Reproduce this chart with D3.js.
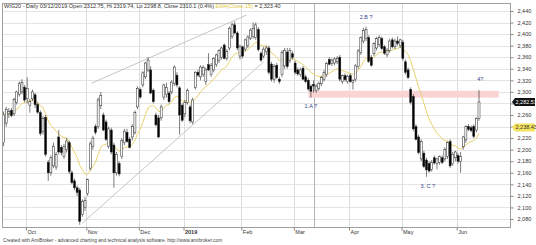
<!DOCTYPE html>
<html>
<head>
<meta charset="utf-8">
<script src="https://cdn.jsdelivr.net/npm/d3@7"></script>
<style>
  body { margin: 0; background: #fff; }
  svg { display: block; }
</style>
</head>
<body>
<div id="chart"></div>
<script>

// WIG20 daily bars, 18 Sep 2018 .. 13 Jun 2019 (one value per trading day)
var opens = [
  2212,2246,2262,2268,2262,2282,2296,2300,2308,
  2288,2277,2288,2295,2278,2264,2232,2256,2178,2160,2172,2170,2222,2204,2188,2200,2212,2160,2146,2134,2130,2088,2100,
  2124,2168,2206,2240,2240,2276,2260,2248,2206,2234,2208,2160,2176,2188,2212,2230,2218,2222,2230,2274,
  2304,2312,2326,2338,2338,2303,2260,2255,2255,2291,2296,2298,2300,2315,2329,2307,2277,
  2262,2282,2274,2248,2308,2334,2326,2330,2318,2347,2330,2338,2347,2355,2360,2381,2358,2376,2396,2416,2402,2362,
  2378,2374,2380,2393,2396,2394,2408,2367,2362,2370,2376,2348,2322,2346,2322,2330,2345,2369,2355,2366,
  2350,2338,2330,2341,2326,2320,2310,2312.75,2302,2306,2314,2322,2330,2356,2349,2350,2352,2360,2318,2328,2318,
  2328,2316,2322,2344,2368,2388,2392,2394,2360,2366,2376,2382,2392,2378,2364,2372,2390,2378,2388,2380,
  2386,2352,2338,2304,2292,2240,2222,2184,2194,2182,2176,2166,2186,2176,2178,2186,2184,2188,2214,2176,2186,
  2190,2180,2205,2217,2240,2238,2240,2234,2254
];
var highs = [
  2266,2274,2272,2272,2290,2302,2318,2322,2312,
  2325,2288,2304,2298,2282,2268,2258,2260,2182,2190,2212,2196,2234,2208,2210,2220,2216,2164,2150,2138,2134,2114,2118,
  2150,2214,2224,2244,2290,2300,2264,2252,2240,2238,2212,2196,2180,2220,2236,2236,2222,2244,2268,2310,
  2308,2336,2352,2360,2344,2306,2264,2260,2278,2314,2316,2302,2320,2346,2334,2310,2280,
  2286,2306,2278,2290,2336,2338,2346,2346,2342,2367,2350,2360,2366,2374,2378,2384,2374,2413,2420,2422,2405,2382,
  2380,2392,2398,2410,2420,2420,2412,2370,2378,2380,2380,2352,2348,2350,2326,2372,2376,2376,2376,2370,
  2354,2342,2342,2345,2330,2324,2313,2319.74,2314,2318,2328,2338,2352,2360,2358,2360,2362,2364,2330,2332,2330,
  2332,2322,2348,2374,2396,2411,2413,2398,2364,2386,2395,2398,2396,2381,2376,2392,2394,2392,2396,2392,
  2390,2356,2342,2308,2296,2244,2226,2218,2198,2186,2180,2182,2190,2186,2190,2190,2204,2214,2218,2196,2198,
  2194,2196,2224,2242,2244,2242,2244,2256,2303
];
var lows = [
  2206,2240,2255,2256,2258,2278,2292,2296,2282,
  2280,2264,2284,2272,2262,2224,2226,2188,2146,2155,2168,2165,2192,2190,2184,2195,2158,2140,2130,2120,2070,2084,2094,
  2120,2164,2200,2226,2236,2270,2232,2215,2202,2192,2134,2155,2154,2184,2208,2212,2202,2216,2226,2270,
  2288,2308,2322,2334,2296,2280,2240,2220,2250,2286,2290,2280,2296,2310,2308,2226,2248,
  2256,2278,2246,2244,2304,2326,2320,2326,2312,2336,2326,2334,2343,2350,2356,2356,2354,2372,2392,2400,2372,2356,
  2358,2370,2376,2390,2392,2390,2370,2352,2358,2364,2330,2318,2316,2322,2314,2326,2340,2340,2350,2356,
  2330,2328,2326,2320,2315,2302,2290,2298.8,2298,2302,2310,2318,2326,2346,2345,2346,2348,2318,2314,2318,2314,
  2316,2304,2318,2340,2364,2384,2388,2350,2344,2362,2372,2378,2372,2364,2360,2368,2375,2374,2380,2376,
  2354,2330,2322,2278,2232,2216,2192,2180,2168,2153,2160,2162,2174,2166,2174,2175,2180,2184,2168,2172,2180,
  2176,2160,2200,2212,2232,2230,2220,2230,2250
];
var closes = [
  2260,2270,2266,2259,2287,2300,2314,2316,2286,
  2306,2283,2300,2278,2265,2228,2254,2192,2160,2186,2206,2192,2196,2195,2205,2215,2162,2143,2134,2126,2076,2110,2112,
  2148,2210,2220,2230,2286,2294,2234,2218,2236,2196,2160,2192,2158,2216,2232,2214,2204,2240,2264,2306,
  2291,2333,2350,2355,2298,2283,2243,2222,2274,2312,2308,2283,2317,2343,2312,2260,2251,
  2282,2302,2250,2286,2334,2329,2343,2342,2338,2338,2346,2358,2364,2372,2376,2358,2370,2410,2416,2402,2376,2378,
  2362,2390,2395,2407,2410,2416,2373,2355,2374,2376,2334,2322,2344,2325,2318,2368,2372,2344,2372,2360,
  2334,2331,2338,2322,2318,2305,2301,2310.1,2310,2315,2325,2334,2349,2348,2355,2357,2358,2322,2328,2321,2327,
  2318,2320,2345,2371,2394,2406,2408,2353,2346,2384,2392,2394,2375,2367,2372,2388,2378,2388,2384,2390,
  2358,2334,2325,2282,2236,2218,2195,2214,2171,2165,2163,2178,2177,2184,2188,2178,2200,2212,2172,2192,2196,
  2180,2188,2222,2240,2235,2233,2223,2254,2282.51
];

// month ticks: label and index of the first bar of that month
var monthLabels = ["Oct", "Nov", "Dec", "2019", "Feb", "Mar", "Apr", "May", "Jun"];
var monthStartBar = [9, 32, 52, 69, 91, 111, 132, 152, 173];

var yTicks = [2080, 2100, 2120, 2140, 2160, 2180, 2200, 2220, 2240, 2260,
              2280, 2300, 2320, 2340, 2360, 2380, 2400, 2420, 2440];
var yHidden = [2240, 2280];   // covered by the value boxes

var cursorBar = 118;          // 03/12/2019
var emaPeriod = 15;
var emaLastLabel = 2238.43;
var closeLastLabel = 2282.51;

// wave labels: bar index and price
var waveText = ["1.A ?", "2.B ?", "3. C ?", "4?"];
var waveBar = [117, 138, 161.5, 181.5];
var wavePrice = [2272, 2426, 2133, 2318];

// channel lines: [bar1, price1, bar2, price2]
var channelLines = [
  [33.5, 2315, 92.5, 2433],
  [30, 2073, 99, 2352]
];

// resistance zone
var zoneBars = [116, 188.5];
var zonePrices = [2290, 2302];


var W = 536, H = 245;
var plot = {left: 2, right: 510, top: 3, bottom: 227};

var svg = d3.select("#chart")
  .append("svg")
  .attr("width", W)
  .attr("height", H)
  .style("font-family", "'Liberation Sans', Arial, sans-serif");

var x = d3.scaleLinear().domain([-0.6, 192.8]).range([plot.left, plot.right]);
var y = d3.scaleLinear().domain([2080, 2440]).range([219, 11]);

svg.append("defs").append("clipPath")
  .attr("id", "plotclip")
  .append("rect")
  .attr("x", plot.left).attr("y", plot.top)
  .attr("width", plot.right - plot.left)
  .attr("height", plot.bottom - plot.top);

// grid
var grid = svg.append("g");
grid.selectAll(".hgrid")
  .data(yTicks)
  .enter()
  .append("line")
  .attr("x1", plot.left).attr("x2", plot.right)
  .attr("y1", function (d) { return Math.round(y(d)) + 0.5; })
  .attr("y2", function (d) { return Math.round(y(d)) + 0.5; })
  .style("stroke", "#e4e4e4")
  .style("stroke-width", 1);

grid.selectAll(".vgrid")
  .data(monthStartBar)
  .enter()
  .append("line")
  .attr("x1", function (d) { return Math.round(x(d - 0.5)) + 0.5; })
  .attr("x2", function (d) { return Math.round(x(d - 0.5)) + 0.5; })
  .attr("y1", plot.top).attr("y2", plot.bottom)
  .style("stroke", "#dcdcdc")
  .style("stroke-width", 1);

// selected bar line
grid.append("line")
  .attr("x1", Math.round(x(cursorBar)) + 0.5)
  .attr("x2", Math.round(x(cursorBar)) + 0.5)
  .attr("y1", plot.top).attr("y2", plot.bottom)
  .style("stroke", "#b4b4b4")
  .style("stroke-width", 1);

var g = svg.append("g").attr("clip-path", "url(#plotclip)");

// zone
g.append("rect")
  .attr("x", x(zoneBars[0]))
  .attr("width", x(zoneBars[1]) - x(zoneBars[0]))
  .attr("y", y(zonePrices[1]))
  .attr("height", y(zonePrices[0]) - y(zonePrices[1]))
  .style("fill", "#f8d4d4");

// channel
g.selectAll(".channel")
  .data(channelLines)
  .enter()
  .append("line")
  .attr("x1", function (d) { return x(d[0]); })
  .attr("y1", function (d) { return y(d[1]); })
  .attr("x2", function (d) { return x(d[2]); })
  .attr("y2", function (d) { return y(d[3]); })
  .style("stroke", "#b8b8b8")
  .style("stroke-width", 0.8);

// ema of close
var ema = [];
var k = 2 / (emaPeriod + 1);
closes.forEach(function (c, i) {
  ema.push(i === 0 ? c : ema[i - 1] + k * (c - ema[i - 1]));
});

g.append("path")
  .datum(ema)
  .attr("d", d3.line()
    .x(function (d, i) { return x(i); })
    .y(function (d) { return y(d); }))
  .style("fill", "none")
  .style("stroke", "#e9d36f")
  .style("stroke-width", 1);

// candles
var candles = g.selectAll(".candle")
  .data(closes)
  .enter()
  .append("g")
  .attr("class", "candle");

candles.append("line")
  .attr("x1", function (d, i) { return x(i); })
  .attr("x2", function (d, i) { return x(i); })
  .attr("y1", function (d, i) { return y(highs[i]); })
  .attr("y2", function (d, i) { return y(lows[i]); })
  .style("stroke", "#222")
  .style("stroke-width", 0.6);

candles.append("rect")
  .attr("x", function (d, i) { return x(i) - 1; })
  .attr("width", 2)
  .attr("y", function (d, i) { return y(Math.max(opens[i], d)); })
  .attr("height", function (d, i) { return Math.max(0.7, Math.abs(y(opens[i]) - y(d))); })
  .style("fill", function (d, i) { return d >= opens[i] ? "#fff" : "#000"; })
  .style("stroke", "#222")
  .style("stroke-width", 0.5);

// wave labels
g.selectAll(".wave")
  .data(waveText)
  .enter()
  .append("text")
  .attr("x", function (d, i) { return x(waveBar[i]); })
  .attr("y", function (d, i) { return y(wavePrice[i]); })
  .attr("text-anchor", "middle")
  .style("font-size", "5.5px")
  .style("fill", "#35458a")
  .text(function (d) { return d; });

// frame
svg.append("rect")
  .attr("x", plot.left + 0.5).attr("y", plot.top + 0.5)
  .attr("width", plot.right - plot.left)
  .attr("height", plot.bottom - plot.top)
  .style("fill", "none")
  .style("stroke", "#a0a0a0")
  .style("stroke-width", 1);

// right axis
var yAxis = svg.append("g")
  .attr("transform", "translate(" + (plot.right + 0.5) + ",0)")
  .call(d3.axisRight(y).tickValues(yTicks).tickSize(3)
    .tickFormat(function (d) { return yHidden.indexOf(d) >= 0 ? "" : d3.format(",")(d); }));
yAxis.select(".domain").remove();
yAxis.selectAll("line").style("stroke", "#888");
yAxis.selectAll("text")
  .attr("x", 7)
  .style("font-size", "5.5px")
  .style("font-family", "'Liberation Sans', Arial, sans-serif")
  .style("fill", "#333");

// value boxes
function valueBox(v, fill, color) {
  var cy = y(v);
  var bx = plot.right + 2;
  svg.append("path")
    .attr("d", "M" + bx + "," + cy + " L" + (bx + 3) + "," + (cy - 4) + " L" + (W - 1) + "," + (cy - 4) +
      " L" + (W - 1) + "," + (cy + 4) + " L" + (bx + 3) + "," + (cy + 4) + " Z")
    .style("fill", fill);
  svg.append("text")
    .attr("x", bx + 3.5)
    .attr("y", cy + 2)
    .style("font-size", "5.5px")
    .style("fill", color)
    .text(d3.format(",.2f")(v));
}
valueBox(closeLastLabel, "#111", "#fff");
valueBox(emaLastLabel, "#f3e25e", "#333");

// bottom axis
var xAxis = svg.append("g")
  .attr("transform", "translate(0," + (plot.bottom + 0.5) + ")")
  .call(d3.axisBottom(x)
    .tickValues(monthStartBar.map(function (b) { return b - 0.5; }))
    .tickSize(3)
    .tickFormat(function (d, i) { return monthLabels[i]; }));
xAxis.select(".domain").remove();
xAxis.selectAll("line").style("stroke", "#888");
xAxis.selectAll("text")
  .attr("text-anchor", "start")
  .attr("dx", 1)
  .attr("y", 3)
  .style("font-size", "5.5px")
  .style("font-family", "'Liberation Sans', Arial, sans-serif")
  .style("font-weight", function (d, i) { return monthLabels[i] === "2019" ? "bold" : "normal"; })
  .style("fill", "#333");

// title
var title = svg.append("text")
  .attr("x", 4)
  .attr("y", 8)
  .style("font-size", "5.5px")
  .style("fill", "#333");
title.append("tspan").text("WIG20 - Daily 03/12/2019 Open 2312.75, Hi 2319.74, Lo 2298.8, Close 2310.1 (0.4%) ");
title.append("tspan").style("fill", "#e0c640").text("EMA(Close,15)");
title.append("tspan").text(" = 2,323.40");

// footer
svg.append("text")
  .attr("x", 3)
  .attr("y", 242)
  .style("font-size", "4.8px")
  .style("fill", "#444")
  .text("Created with AmiBroker - advanced charting and technical analysis software. http://www.amibroker.com");

</script>
</body>
</html>
